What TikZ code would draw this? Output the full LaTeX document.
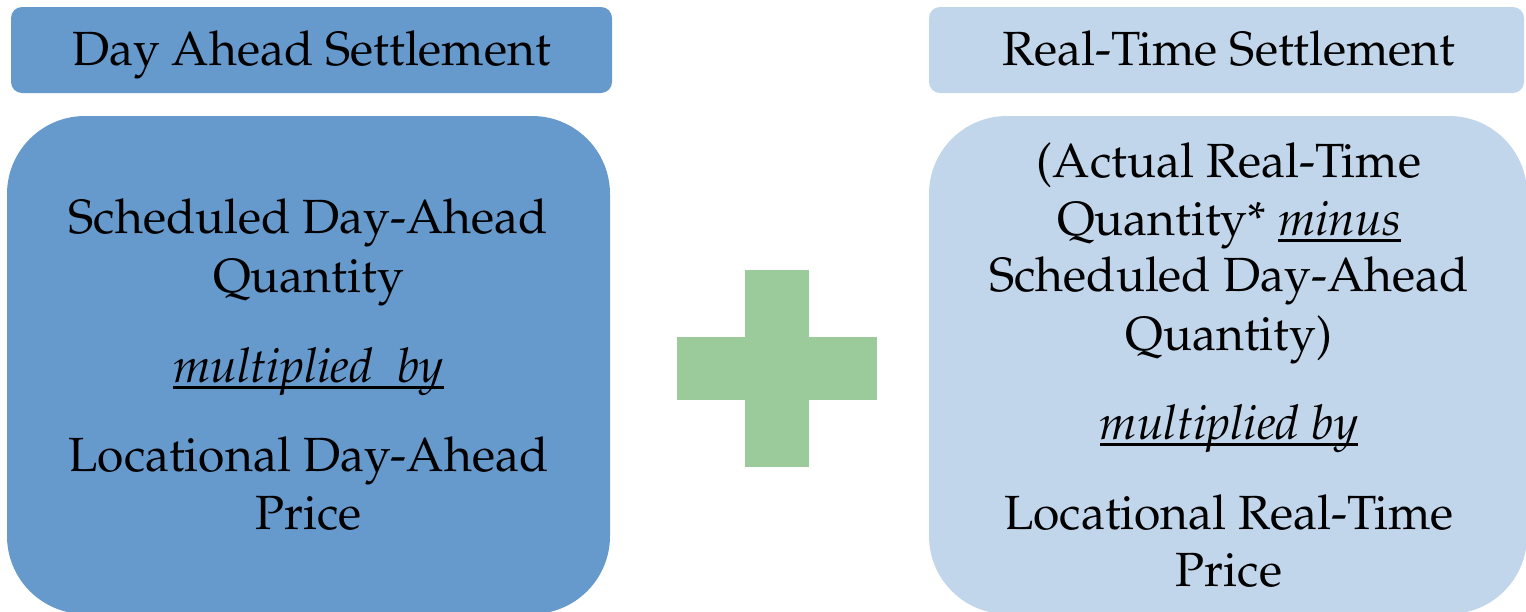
\documentclass[tikz,border=0pt]{standalone}
\usepackage[T1]{fontenc}
\usepackage{mathpazo}
\definecolor{dablue}{HTML}{6699CC}
\definecolor{rtblue}{HTML}{C2D6EB}
\definecolor{plusgreen}{HTML}{9BCB9A}
\tikzset{
  header/.style={rounded corners=11pt},
  panel/.style={rounded corners=78pt},
  linetxt/.style={anchor=base, inner sep=0pt, text=black,
    font=\fontsize{48}{59}\selectfont},
}
% italic words with a rule just under the baseline
\newsavebox{\ulbox}
\newcommand{\uit}[1]{\sbox{\ulbox}{\itshape #1}\rlap{\rule[-6.5pt]{\wd\ulbox}{2.8pt}}\usebox{\ulbox}}
\begin{document}
\begin{tikzpicture}[x=1pt,y=-1pt]
  \clip (0,0) rectangle (1526,611);
  % header bars
  \fill[dablue, header] (11,7) rectangle (612,93);
  \fill[rtblue, header] (929,7) rectangle (1524,93);
  % settlement panels
  \fill[dablue, panel] (7,116) rectangle (610,614);
  \fill[rtblue, panel] (929,116) rectangle (1527,614);
  % plus sign
  \fill[plusgreen] (745,270) rectangle (809,467);
  \fill[plusgreen] (677,337) rectangle (877,400);

  % headings
  \node[linetxt] (hda) at (311.5,65) {Day Ahead Settlement};
  \node[linetxt] (hrt) at (1229,65) {Real-Time Settlement};

  % day-ahead formula
  \node[linetxt] (da1) at (308.5,233) {Scheduled Day-Ahead};
  \node[linetxt] (da2) at (308.5,292) {Quantity};
  \node[linetxt] (da3) at (308.5,382) {\uit{multiplied\ \ by}};
  \node[linetxt] (da4) at (308.5,471) {Locational Day-Ahead};
  \node[linetxt] (da5) at (308.5,529) {Price};

  % real-time formula
  \node[linetxt] (rt1) at (1229,177) {(Actual Real-Time};
  \node[linetxt] (rt2) at (1229,235) {Quantity* \uit{minus}};
  \node[linetxt] (rt3) at (1229,291) {Scheduled Day-Ahead};
  \node[linetxt] (rt4) at (1229,350) {Quantity)};
  \node[linetxt] (rt5) at (1229,439) {\uit{multiplied by}};
  \node[linetxt] (rt6) at (1229,529) {Locational Real-Time};
  \node[linetxt] (rt7) at (1229,586) {Price};
\end{tikzpicture}
\end{document}
